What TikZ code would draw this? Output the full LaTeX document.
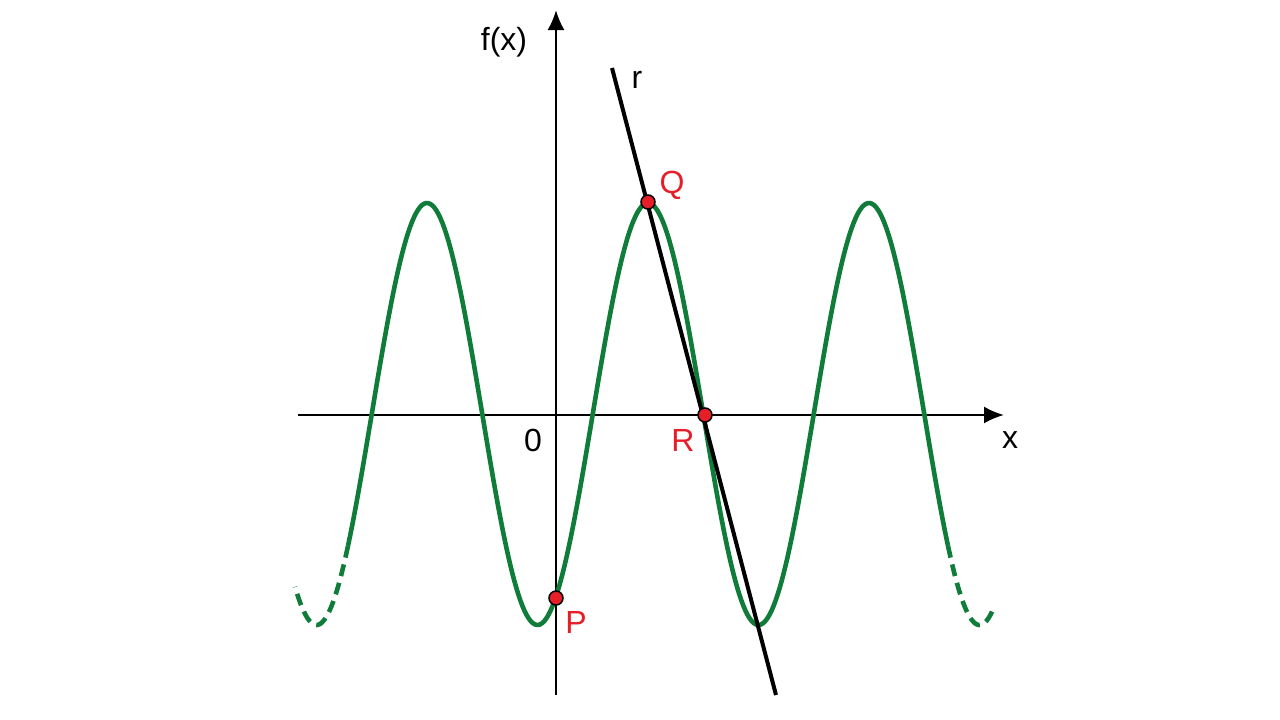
\documentclass[tikz,border=0pt]{standalone}
\usepackage{fontspec}
\setmainfont{Liberation Sans}
\usetikzlibrary{arrows.meta}
\definecolor{cgreen}{RGB}{16,124,58}
\definecolor{cred}{RGB}{230,30,40}
\begin{document}
\begin{tikzpicture}[x=1pt,y=-1pt,
  lbl/.style={font=\fontsize{32}{34}\selectfont,inner sep=0pt},
  rlbl/.style={lbl,text=cred},
  pt/.style={circle,draw=black,fill=cred,line width=1.5pt,minimum size=14pt,inner sep=0pt},
  curve/.style={cgreen,line width=4.6pt},
  axis/.style={line width=2.2pt,-{Latex[length=20pt,width=17pt]}}]
\useasboundingbox (0,0) rectangle (1280,720);
\coordinate (xs) at (298,415); \coordinate (xe) at (1004,415);
\coordinate (ys) at (556,695); \coordinate (ye) at (556,10);
\draw[axis] (xs) -- (xe);
\draw[axis] (ys) -- (ye);
\draw[curve] plot[domain=348:948,samples=300] (\x,{414-211*cos(1.628959*(\x-648))});
\draw[curve,dash pattern=on 12pt off 7pt] plot[domain=348:295,samples=40] (\x,{414-211*cos(1.628959*(\x-648))});
\draw[curve,dash pattern=on 12pt off 7pt] plot[domain=948:993,samples=40] (\x,{414-211*cos(1.628959*(\x-648))});
\coordinate (rt) at (612,68); \coordinate (rb) at (776,695);
\draw[line width=4pt] (rt) -- (rb);
\node[pt] (Q) at (648,202) {};
\node[pt] (R) at (705,415) {};
\node[pt] (P) at (556,598) {};
\node[lbl] (fx) at (504,42) {f(x)};
\node[lbl] (r) at (637,80) {r};
\node[rlbl] (lq) at (672,185) {Q};
\node[rlbl] (lr) at (683,440) {R};
\node[rlbl] (lp) at (576,622) {P};
\node[lbl] (o) at (533,440) {0};
\node[lbl] (x) at (1010,440) {x};
\end{tikzpicture}
\end{document}
